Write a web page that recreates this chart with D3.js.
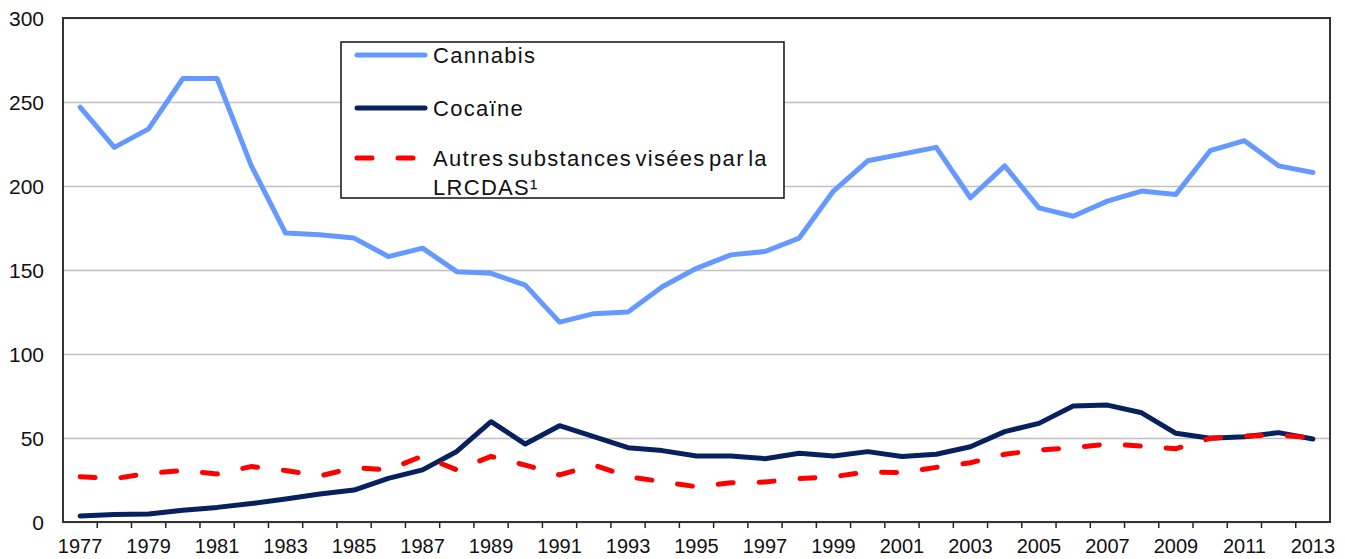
<!DOCTYPE html>
<html>
<head>
<meta charset="utf-8">
<script src="https://cdn.jsdelivr.net/npm/d3@7"></script>
<style>
	body { margin: 0; background: #fff; }
	text { font-family: "Liberation Sans", Arial, sans-serif; fill: #111; }
	.grid line { stroke: #c0c0c0; stroke-width: 1.5; }
	.axis path, .axis line { stroke: none; }
</style>
</head>
<body>
<div id="chart"></div>
<script>
//values, one entry per year 1977..2013
const years = d3.range(1977, 2014);
const cannabis = [247, 223, 234, 264, 264, 212, 172, 171, 169, 158, 163, 149, 148, 141, 119, 124, 125, 140, 151, 159, 161, 169, 197, 215, 219, 223, 193, 212, 187, 182, 191, 197, 195, 221, 227, 212, 208];
const cocaine = [3.6, 4.5, 4.8, 7, 8.7, 11, 13.7, 16.7, 19, 26, 31, 42, 59.7, 46.4, 57.3, 50.8, 44.2, 42.5, 39.3, 39.3, 37.7, 40.9, 39.3, 41.9, 39, 40.3, 44.8, 53.8, 58.7, 69, 69.6, 65, 52.8, 49.8, 50.8, 53.2, 49.4];
const autres = [27, 25.8, 29, 30.6, 28.6, 33, 30.6, 27.4, 32.3, 31, 39.3, 31, 39, 33.9, 28, 33.9, 27, 24, 21, 23.4, 23.8, 25.8, 27, 29.8, 29.4, 32.5, 35.3, 40.3, 42.9, 44.2, 46.4, 45.2, 43.6, 49.8, 51.2, 51.8, 50];
const yTicks = [0, 50, 100, 150, 200, 250, 300];
const seriesNames = ["Cannabis", "Cocaïne", "Autres substances visées par la", "LRCDAS¹"];

//margin is the space round the plot box, width and height are the plot box itself
const margin = {top: 18, right: 15, bottom: 37, left: 63},
	  width = 1345 - margin.left - margin.right,
	  height = 559 - margin.top - margin.bottom;

var svg = d3.select("#chart")
	.append("svg")
	.attr("width", width + margin.left + margin.right)
	.attr("height", height + margin.top + margin.bottom)
	.append("g")
	.attr("transform", "translate(" + margin.left + "," + margin.top + ")");

var x = d3.scaleBand()
	.domain(years)
	.range([0, width])
	.padding(0);
var y = d3.scaleLinear()
	.domain([0, 300])
	.range([height, 0]);

function xMid(yr) { return x(yr) + x.bandwidth() / 2; }

//gridlines (no tick marks on the y axis, just the labels)
svg.append("g")
	.attr("class", "grid")
	.call(d3.axisLeft(y).tickValues(yTicks).tickSize(-width).tickFormat(""))
	.call(g => g.select(".domain").remove());

svg.append("g")
	.attr("class", "axis")
	.call(d3.axisLeft(y).tickValues(yTicks).tickSize(0).tickPadding(19))
	.call(g => g.selectAll("text").style("font-size", "21px").attr("dy", "0.36em"));

//x axis: small ticks on every year boundary, labels on odd years
svg.selectAll(".xtick")
	.data(years.slice(1))
	.enter()
	.append("line")
	.attr("class", "xtick")
	.attr("x1", d => x(d)).attr("x2", d => x(d))
	.attr("y1", height).attr("y2", height + 6)
	.attr("stroke", "#222")
	.attr("stroke-width", 1.5);

svg.append("g")
	.attr("class", "axis")
	.attr("transform", "translate(0," + height + ")")
	.call(d3.axisBottom(x).tickValues(years.filter(d => d % 2 == 1)).tickSize(0).tickPadding(17))
	.call(g => g.selectAll("text").style("font-size", "20px").attr("dy", "0.71em"));

//plot frame
svg.append("rect")
	.attr("width", width)
	.attr("height", height)
	.attr("fill", "none")
	.attr("stroke", "#333")
	.attr("stroke-width", 2);

//the three lines
const line = d3.line()
	.x((d, i) => xMid(years[i]))
	.y(d => y(d));

svg.append("path")
	.datum(cannabis)
	.attr("d", line)
	.attr("fill", "none")
	.attr("stroke", "#6699ff")
	.attr("stroke-width", 5)
	.attr("stroke-linejoin", "round")
	.attr("stroke-linecap", "round");

svg.append("path")
	.datum(cocaine)
	.attr("d", line)
	.attr("fill", "none")
	.attr("stroke", "#06215e")
	.attr("stroke-width", 5)
	.attr("stroke-linejoin", "round")
	.attr("stroke-linecap", "round");

svg.append("path")
	.datum(autres)
	.attr("d", line)
	.attr("fill", "none")
	.attr("stroke", "#ff0000")
	.attr("stroke-width", 5)
	.attr("stroke-dasharray", "15,26")
	.attr("stroke-linecap", "round");

//legend box, in page coordinates
var legend = d3.select("svg").append("g");
legend.append("rect")
	.attr("x", 341).attr("y", 42)
	.attr("width", 443).attr("height", 156)
	.attr("fill", "#fff")
	.attr("stroke", "#111")
	.attr("stroke-width", 1.5);

const legendRows = [
	{y: 55, color: "#6699ff", dash: null},
	{y: 108, color: "#06215e", dash: null},
	{y: 158, color: "#ff0000", dash: "15,26"}
];
legendRows.forEach(function(r, i) {
	legend.append("line")
		.attr("x1", 357).attr("x2", 425)
		.attr("y1", r.y).attr("y2", r.y)
		.attr("stroke", r.color)
		.attr("stroke-width", 5)
		.attr("stroke-linecap", "round")
		.attr("stroke-dasharray", r.dash);
	legend.append("text")
		.attr("x", 433)
		.attr("y", r.y + 8)
		.style("font-size", "22px")
		.style("letter-spacing", "1.3px")
		.style("word-spacing", "-4px")
		.text(seriesNames[i]);
});
legend.append("text")
	.attr("x", 433)
	.attr("y", 195)
	.style("font-size", "22px")
	.style("letter-spacing", "1.3px")
	.text(seriesNames[3]);
</script>
</body>
</html>
